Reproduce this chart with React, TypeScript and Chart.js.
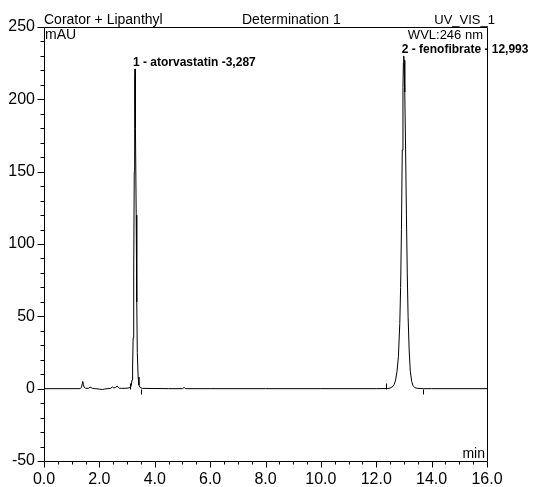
import React, { useEffect, useRef } from "react";
import { Chart, registerables } from "chart.js";

Chart.register(...registerables);

// Chromatogram samples (retention time in min, signal in mAU)
const times = [
  0.0, 1.3, 1.36, 1.38, 1.4, 1.42, 1.45, 1.5, 1.6, 1.66, 1.7, 1.75, 1.85, 2.0, 2.12, 2.2, 2.4, 2.48, 2.52, 2.58, 2.64, 2.68, 2.72, 2.8, 3.0, 3.12,
  3.15, 3.18, 3.2, 3.22, 3.24, 3.26, 3.27, 3.28, 3.287, 3.295, 3.31, 3.33, 3.35, 3.37, 3.4, 3.43, 3.47, 3.55,
  4.5, 5.0, 5.06, 5.12, 6.0, 8.0, 10.0, 12.0, 12.4,
  12.5, 12.6, 12.65, 12.7, 12.75, 12.8, 12.85, 12.88, 12.91, 12.94, 12.965, 12.98, 12.993, 13.005, 13.03, 13.06, 13.09, 13.12, 13.15, 13.19, 13.23, 13.28, 13.33, 13.4, 13.5, 13.7, 14.0, 16.0,
];
const signal = [
  0.0, 0.0, 1.0, 3.5, 5.0, 3.0, 1.0, 0.3, 0.2, 1.0, 0.8, 0.2, 0.0, -0.3, -0.6, -0.2, 0.2, 1.2, 0.5, 0.8, 1.8, 1.0, 0.3, 0.2, 0.3, 0.8,
  2, 6, 15, 35, 80, 150, 190, 214, 221, 213, 180, 120, 60, 25, 8, 2.5, 0.8, 0.2,
  0.0, 0.0, 0.8, 0.0, 0.0, 0.0, 0.0, 0.0, 0.1,
  0.4, 1.5, 3, 6, 12, 22, 45, 70, 110, 165, 208, 225, 230, 227, 205, 165, 120, 80, 50, 26, 12, 5, 2, 0.6, 0.2, 0.0, 0.0, 0.0,
];

const peakNames = ["1 - atorvastatin -3,287", "2 - fenofibrate - 12,993"];
const peakTimes = [3.287, 12.993];
const peakHeights = [221, 230];
const peakStarts = [3.1, 12.36];
const peakEnds = [3.52, 13.7];

const xMin = 0;
const xMax = 16;
const xMajorStep = 2;
const xMinorStep = 0.5;
const yMin = -50;
const yMax = 250;
const yMajorStep = 50;
const yMinorStep = 10;

const titleLeft = "Corator + Lipanthyl";
const titleMid = "Determination 1";
const titleRight = "UV_VIS_1";
const yUnit = "mAU";
const xUnit = "min";
const wavelength = "WVL:246 nm";

const FONT = "'Liberation Sans', Arial, sans-serif";

const decorPlugin = {
  id: "decor",
  afterDraw(chart: any) {
    const { ctx, chartArea } = chart;
    const xs = chart.scales.x;
    const ys = chart.scales.y;
    const L = Math.floor(chartArea.left) + 0.5;
    const R = Math.floor(chartArea.right) + 0.5;
    const T = Math.floor(chartArea.top) + 0.5;
    const B = Math.floor(chartArea.bottom) + 0.5;
    ctx.save();
    ctx.strokeStyle = "#000";
    ctx.lineWidth = 1;
    ctx.beginPath();
    ctx.moveTo(L, T);
    ctx.lineTo(R, T);
    ctx.lineTo(R, B);
    ctx.lineTo(L, B);
    ctx.closePath();
    ctx.stroke();

    // y ticks
    ctx.beginPath();
    for (let v = yMin; v <= yMax + 1e-9; v += yMinorStep) {
      const py = Math.round(ys.getPixelForValue(v)) + 0.5;
      const major = Math.abs(v % yMajorStep) < 1e-9;
      ctx.moveTo(L, py);
      ctx.lineTo(L - (major ? 7 : 4), py);
    }
    // x ticks
    for (let v = xMin; v <= xMax + 1e-9; v += xMinorStep) {
      const px = Math.round(xs.getPixelForValue(v)) + 0.5;
      const major = Math.abs(v % xMajorStep) < 1e-9;
      ctx.moveTo(px, B);
      ctx.lineTo(px, B + (major ? 6 : 3));
    }
    // peak delimiters
    const py0 = Math.round(ys.getPixelForValue(0)) + 0.5;
    peakStarts.forEach((t) => {
      const px = Math.round(xs.getPixelForValue(t)) + 0.5;
      ctx.moveTo(px, py0);
      ctx.lineTo(px, py0 - 6);
    });
    peakEnds.forEach((t) => {
      const px = Math.round(xs.getPixelForValue(t)) + 0.5;
      ctx.moveTo(px, py0);
      ctx.lineTo(px, py0 + 5);
    });
    ctx.stroke();

    // texts
    ctx.fillStyle = "#000";
    ctx.textBaseline = "alphabetic";
    ctx.font = `14px ${FONT}`;
    ctx.textAlign = "left";
    ctx.fillText(titleLeft, chartArea.left, 24);
    ctx.fillText(titleMid, 242, 24);
    ctx.fillText(yUnit, chartArea.left + 1, 39);
    ctx.textAlign = "right";
    ctx.fillText(xUnit, chartArea.right - 2, chartArea.bottom - 3);
    ctx.font = `13px ${FONT}`;
    ctx.fillText(titleRight, 495, 24);
    ctx.fillText(wavelength, 483, 39);

    ctx.font = `bold 12px ${FONT}`;
    ctx.textAlign = "left";
    peakNames.forEach((name, i) => {
      const px = xs.getPixelForValue(peakTimes[i]);
      const py = ys.getPixelForValue(peakHeights[i]);
      ctx.fillText(name, px - 2, py - 3);
    });
    ctx.restore();
  },
};

export default function App() {
  const ref = useRef<HTMLCanvasElement | null>(null);
  useEffect(() => {
    document.body.style.margin = "0";
    if (!ref.current) return;
    const chart = new Chart(ref.current, {
      type: "line",
      data: {
        datasets: [
          {
            data: times.map((t, i) => ({ x: t, y: signal[i] })),
            borderColor: "#000",
            borderWidth: 1,
            pointRadius: 0,
            tension: 0,
            fill: false,
          },
        ],
      },
      options: {
        animation: false,
        responsive: false,
        events: [],
        layout: { padding: { left: 0, top: 27, right: 47, bottom: 0 } },
        plugins: { legend: { display: false }, tooltip: { enabled: false }, title: { display: false } },
        scales: {
          x: {
            type: "linear",
            min: xMin,
            max: xMax,
            grid: { display: false, drawTicks: false },
            border: { display: false },
            afterFit: (s: any) => {
              s.height = 26;
            },
            ticks: {
              stepSize: xMajorStep,
              autoSkip: false,
              maxRotation: 0,
              padding: 9,
              color: "#000",
              font: { family: FONT, size: 16 },
              callback: (v: any) => Number(v).toFixed(1),
            },
          },
          y: {
            type: "linear",
            min: yMin,
            max: yMax,
            grid: { display: false, drawTicks: false },
            border: { display: false },
            afterFit: (s: any) => {
              s.width = 44;
            },
            ticks: {
              stepSize: yMajorStep,
              autoSkip: false,
              padding: 9,
              color: "#000",
              font: { family: FONT, size: 16 },
              callback: (v: any) => String(v),
            },
          },
        },
      },
      plugins: [decorPlugin],
    });
    return () => chart.destroy();
  }, []);
  return (
    <div style={{ width: 534, height: 487, background: "#fff" }}>
      <canvas ref={ref} width={534} height={487} style={{ display: "block" }} />
    </div>
  );
}
